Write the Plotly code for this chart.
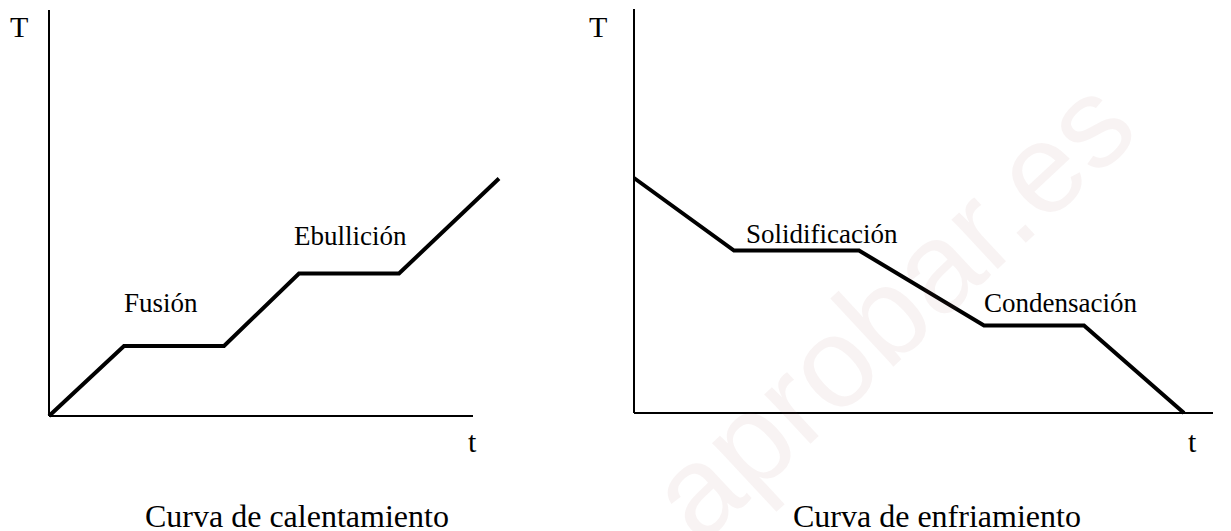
import plotly.graph_objects as go

# heating curve (left) and cooling curve (right), arbitrary units
heat_t = [0, 3, 7, 10, 14, 18]
heat_T = [0, 28, 28, 57, 57, 95]
cool_t = [0, 4, 9, 14, 18, 22]
cool_T = [94, 65, 65, 35, 35, 0]

heat_phase_labels = ["Fusión", "Ebullición"]
cool_phase_labels = ["Solidificación", "Condensación"]
captions = ["Curva de calentamiento", "Curva de enfriamiento"]

W, H = 1231, 531
PAGE = 8  # default body margin of the html page
SERIF = "Liberation Serif, Times New Roman, serif"


def px(x):
    return (x - PAGE) / W


def py(y):
    return 1 - (y - PAGE) / H


# pixel placement of each panel: origin, scale, axis ends
panels = [
    dict(ox=49, oy=416, sx=25, sy=2.5, top=10, right=473, box=(40, 512, 9, 424)),
    dict(ox=634, oy=413, sx=25, sy=2.5, top=7, right=1213, box=(625, 1225, 9, 422)),
]

fig = go.Figure()
fig.add_trace(go.Scatter(x=heat_t, y=heat_T, mode="lines", xaxis="x", yaxis="y",
                         line=dict(color="black", width=4), hoverinfo="skip"))
fig.add_trace(go.Scatter(x=cool_t, y=cool_T, mode="lines", xaxis="x2", yaxis="y2",
                         line=dict(color="black", width=4), hoverinfo="skip"))

axes = {}
shapes = []
for i, p in enumerate(panels):
    x0, x1, y0, y1 = p["box"]
    sfx = "" if i == 0 else "2"
    axes["xaxis" + sfx] = dict(domain=[px(x0), px(x1)],
                               range=[(x0 - p["ox"]) / p["sx"], (x1 - p["ox"]) / p["sx"]],
                               visible=False, fixedrange=True)
    axes["yaxis" + sfx] = dict(domain=[py(y1), min(py(y0), 1)],
                               range=[(p["oy"] - y1) / p["sy"], (p["oy"] - y0) / p["sy"]],
                               visible=False, fixedrange=True,
                               anchor="x" + sfx)
    ln = dict(color="black", width=2)
    shapes.append(dict(type="line", xref="x" + sfx, yref="y" + sfx, x0=0, y0=0, x1=0,
                       y1=(p["oy"] - p["top"]) / p["sy"], line=ln))
    shapes.append(dict(type="line", xref="x" + sfx, yref="y" + sfx, x0=0, y0=0,
                       x1=(p["right"] - p["ox"]) / p["sx"], y1=0, line=ln))

annotations = []

# watermark
annotations.append(dict(text="aprobar.es", x=px(890), y=py(308), xref="paper", yref="paper",
                        showarrow=False, textangle=-43, xanchor="center", yanchor="middle",
                        font=dict(family="Liberation Sans, Arial, sans-serif", size=128,
                                  color="rgba(150,90,90,0.07)")))


def label(text, x, y, size):
    annotations.append(dict(text=text, x=px(x), y=py(y), xref="paper", yref="paper",
                            showarrow=False, xanchor="center", yanchor="middle",
                            font=dict(family=SERIF, size=size, color="black")))


label("T", 19, 26, 30)
label("T", 598, 26, 30)
label("t", 472, 441, 30)
label("t", 1192, 441, 30)
label(heat_phase_labels[0], 161, 303, 27)
label(heat_phase_labels[1], 350, 236, 27)
label(cool_phase_labels[0], 822, 234, 27)
label(cool_phase_labels[1], 1060, 303, 27)
label(captions[0], 297, 516, 32)
label(captions[1], 937, 516, 32)

fig.update_layout(
    width=W, height=H,
    margin=dict(l=0, r=0, t=0, b=0),
    paper_bgcolor="white", plot_bgcolor="rgba(0,0,0,0)",
    showlegend=False,
    shapes=shapes,
    annotations=annotations,
    **axes,
)

fig.write_html("out.html", config=dict(displayModeBar=False))
